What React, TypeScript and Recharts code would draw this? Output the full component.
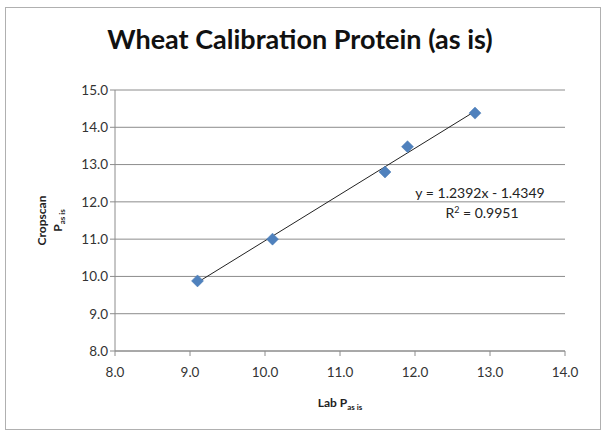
import { ScatterChart, Scatter, XAxis, YAxis, CartesianGrid, ReferenceLine, Label } from "recharts";

// Lab protein vs Cropscan protein (as is)
const labValues = [9.1, 10.1, 11.6, 11.9, 12.8];
const cropscanValues = [9.88, 11.0, 12.8, 13.48, 14.38];
const xTicks = [8, 9, 10, 11, 12, 13, 14];
const yTicks = [8, 9, 10, 11, 12, 13, 14, 15];
// trendline end points (y = 1.2392x - 1.4349)
const trendX = [9.1, 12.8];
const trendY = [9.84, 14.43];

const points = labValues.map((x, i) => ({ x, y: cropscanValues[i] }));

const FONT = "Lato, 'Open Sans', sans-serif";

const Diamond = (props: any) => {
    const { cx, cy } = props;
    const r = 6;
    return (
        <polygon
            points={`${cx},${cy - r} ${cx + r},${cy} ${cx},${cy + r} ${cx - r},${cy}`}
            fill="#4F81BD"
            stroke="#4A7AB5"
            strokeWidth={0.5}
        />
    );
};

const XLabel = (props: any) => {
    const { viewBox } = props;
    const cx = viewBox.x + viewBox.width / 2;
    return (
        <text x={cx} y={viewBox.y + 56} textAnchor="middle" fontFamily={FONT} fontWeight="bold" fontSize={12} fill="#222">
            Lab P<tspan fontSize={8} dy={3}>as is</tspan>
        </text>
    );
};

const YLabel = (props: any) => {
    const { viewBox } = props;
    const cy = viewBox.y + viewBox.height / 2;
    return (
        <g>
            <text x={46} y={cy} transform={`rotate(-90, 46, ${cy})`} textAnchor="middle" fontFamily={FONT} fontWeight="bold" fontSize={12} fill="#222">
                Cropscan
            </text>
            <text x={62} y={cy} transform={`rotate(-90, 62, ${cy})`} textAnchor="middle" fontFamily={FONT} fontWeight="bold" fontSize={12} fill="#222">
                P<tspan fontSize={8} dy={3}>as is</tspan>
            </text>
        </g>
    );
};

export default function App() {
    return (
        <div style={{ position: "absolute", left: 0, top: 0, width: 606, height: 433, background: "#fff" }}>
            <ScatterChart width={606} height={433} margin={{ top: 90, right: 41, bottom: 0, left: 0 }}>
                <CartesianGrid vertical={false} stroke="#8c8c8c" />
                <XAxis
                    type="number"
                    dataKey="x"
                    domain={[8, 14]}
                    ticks={xTicks}
                    height={82}
                    tickFormatter={(v: number) => v.toFixed(1)}
                    stroke="#8c8c8c"
                    tickSize={5}
                    tick={{ fill: "#333", fontSize: 13.5, fontFamily: FONT, dy: 9 }}
                    interval={0}
                >
                    <Label content={<XLabel />} />
                </XAxis>
                <YAxis
                    type="number"
                    dataKey="y"
                    domain={[8, 15]}
                    ticks={yTicks}
                    width={115}
                    tickFormatter={(v: number) => v.toFixed(1)}
                    stroke="#8c8c8c"
                    tickSize={5}
                    tick={{ fill: "#333", fontSize: 13.5, fontFamily: FONT }}
                    interval={0}
                >
                    <Label content={<YLabel />} />
                </YAxis>
                <ReferenceLine
                    segment={[
                        { x: trendX[0], y: trendY[0] },
                        { x: trendX[1], y: trendY[1] },
                    ]}
                    stroke="#222"
                    strokeWidth={1}
                    ifOverflow="visible"
                />
                <Scatter data={points} shape={<Diamond />} isAnimationActive={false} />
            </ScatterChart>
            <svg width={606} height={433} style={{ position: "absolute", left: 0, top: 0, pointerEvents: "none" }}>
                <rect x={5.5} y={7.5} width={595} height={422} fill="none" stroke="#b0b0b0" />
                <text x={300} y={49} textAnchor="middle" fontFamily={FONT} fontWeight="bold" fontSize={27} fill="#111">
                    Wheat Calibration Protein (as is)
                </text>
                <text x={480} y={198} textAnchor="middle" fontFamily={FONT} fontSize={14} fill="#222">
                    y = 1.2392x - 1.4349
                </text>
                <text x={482} y={218} textAnchor="middle" fontFamily={FONT} fontSize={14} fill="#222">
                    R<tspan fontSize={9} dy={-5}>2</tspan><tspan dy={5}> = 0.9951</tspan>
                </text>
            </svg>
        </div>
    );
}
